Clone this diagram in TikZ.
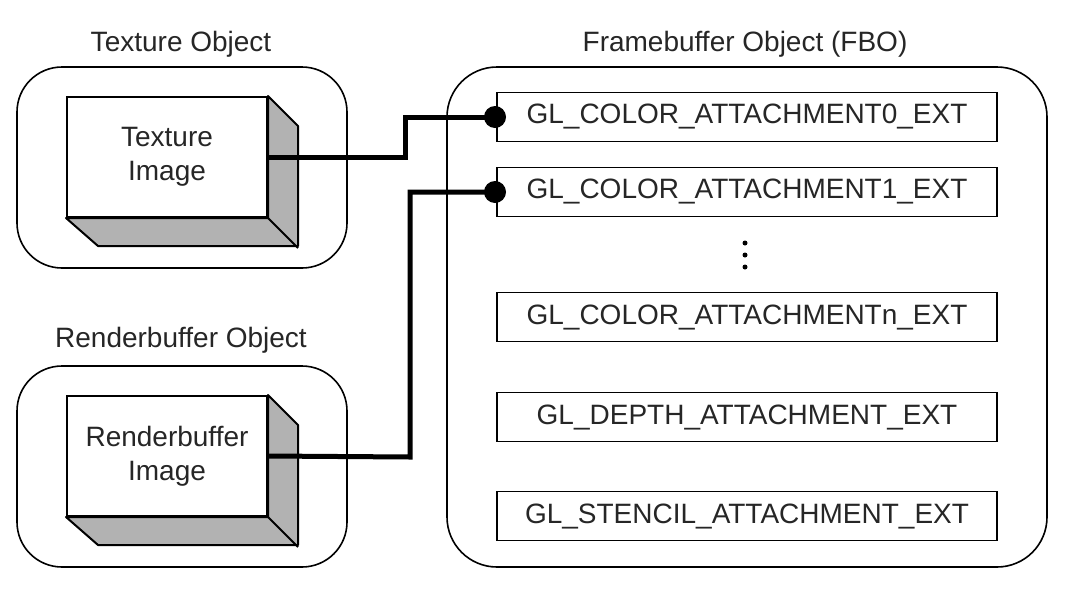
\documentclass[tikz,border=0pt]{standalone}
\usepackage{fontspec}
\setmainfont{Liberation Sans}
\begin{document}
\begin{tikzpicture}[x=1pt,y=-1pt,
 outer/.style={draw, line width=1.6pt, rounded corners=45pt},
 front/.style={draw, line width=2pt, fill=white, minimum width=200pt, minimum height=120pt, align=center, font=\fontsize{28}{34}\selectfont, inner sep=0pt, text=black!85},
 side/.style={draw, line width=2pt, fill=gray!60, line join=round},
 att/.style={draw, line width=1.8pt, minimum width=500pt, minimum height=49pt, font=\fontsize{28}{30}\selectfont, inner sep=0pt, text=black!85},
 title/.style={font=\fontsize{28}{30}\selectfont, text=black!85},
 wire/.style={line width=5pt},
 dot/.style={circle, fill=black, minimum size=22pt, inner sep=0pt},
 vdot/.style={circle, fill=black, minimum size=5pt, inner sep=0pt}]
\useasboundingbox (0,0) rectangle (1070,600);
% titles
\node[title] (t1) at (181,44) {Texture Object};
\node[title] (t2) at (181,340) {Renderbuffer Object};
\node[title] (t3) at (745,44) {Framebuffer Object (FBO)};
% outer containers
\draw[outer] (17,67) rectangle (347,268);
\draw[outer] (17,366) rectangle (347,567);
\draw[outer, rounded corners=50pt] (447,67) rectangle (1047,567);
% texture image box
\node[front] (tex) at (167,157) {Texture\\Image};
\draw[side] (tex.north east) -- ++(30,30) -- ++(0,120) -- ++(-200,0) -- (tex.south west) -- (tex.south east) -- cycle;
\draw[line width=2pt] (tex.south east) -- ++(30,30);
% renderbuffer image box
\node[front] (rb) at (167,456) {Renderbuffer\\Image};
\draw[side] (rb.north east) -- ++(30,30) -- ++(0,120) -- ++(-200,0) -- (rb.south west) -- (rb.south east) -- cycle;
\draw[line width=2pt] (rb.south east) -- ++(30,30);
% attachment boxes
\node[att] (a0) at (747,117) {GL\_COLOR\_ATTACHMENT0\_EXT};
\node[att] (a1) at (747,192) {GL\_COLOR\_ATTACHMENT1\_EXT};
\node[att] (an) at (747,317) {GL\_COLOR\_ATTACHMENTn\_EXT};
\node[att] (ad) at (747,417) {GL\_DEPTH\_ATTACHMENT\_EXT};
\node[att] (as) at (747,516) {GL\_STENCIL\_ATTACHMENT\_EXT};
% vertical ellipsis
\node[vdot] (v1) at (745,243) {};
\node[vdot] (v2) at (745,255) {};
\node[vdot] (v3) at (745,267) {};
% connectors
\node[dot] (d0) at (495,117) {};
\node[dot] (d1) at (495,192) {};
\draw[wire] (tex.east) -- (405,157) |- (d0.center);
\draw[wire] (rb.east) -- (410,457) |- (d1.center);
\end{tikzpicture}
\end{document}
